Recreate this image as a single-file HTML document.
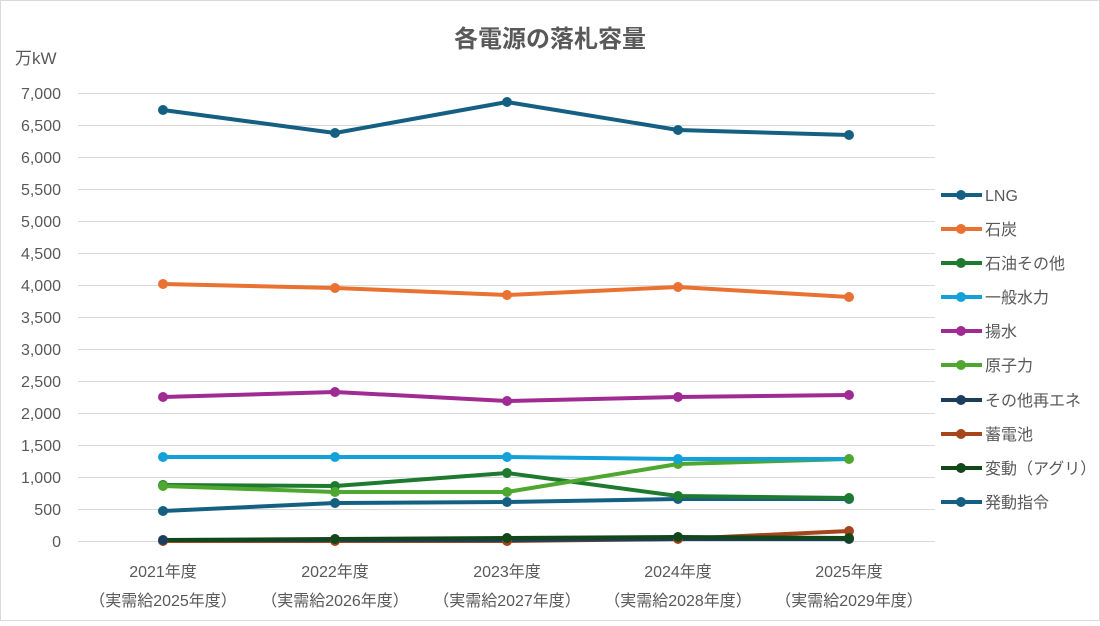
<!DOCTYPE html>
<html><head><meta charset="utf-8"><style>
html,body{margin:0;padding:0;background:#fff}
svg text{font-family:"Liberation Sans","Noto Sans CJK JP",sans-serif;fill:#595959}
</style></head><body>
<svg width="1100" height="621" viewBox="0 0 1100 621" xmlns="http://www.w3.org/2000/svg">
<rect x="0.5" y="0.5" width="1099" height="620" fill="#fff" stroke="#d9d9d9"/>
<text x="550" y="47" text-anchor="middle" font-size="24" font-weight="bold">各電源の落札容量</text>
<text x="15" y="64" font-size="17" fill="#404040">万kW</text>
<g stroke="#d9d9d9" stroke-width="1">
<line x1="78" x2="935" y1="93.5" y2="93.5"/><line x1="78" x2="935" y1="125.5" y2="125.5"/>
<line x1="78" x2="935" y1="157.5" y2="157.5"/><line x1="78" x2="935" y1="189.5" y2="189.5"/>
<line x1="78" x2="935" y1="221.5" y2="221.5"/><line x1="78" x2="935" y1="253.5" y2="253.5"/>
<line x1="78" x2="935" y1="285.5" y2="285.5"/><line x1="78" x2="935" y1="317.5" y2="317.5"/>
<line x1="78" x2="935" y1="349.5" y2="349.5"/><line x1="78" x2="935" y1="381.5" y2="381.5"/>
<line x1="78" x2="935" y1="413.5" y2="413.5"/><line x1="78" x2="935" y1="445.5" y2="445.5"/>
<line x1="78" x2="935" y1="477.5" y2="477.5"/><line x1="78" x2="935" y1="509.5" y2="509.5"/>
<line x1="78" x2="935" y1="541.5" y2="541.5"/>
</g>
<g font-size="16" text-anchor="end">
<text x="61" y="99">7,000</text><text x="61" y="131">6,500</text><text x="61" y="163">6,000</text>
<text x="61" y="195">5,500</text><text x="61" y="227">5,000</text><text x="61" y="259">4,500</text>
<text x="61" y="291">4,000</text><text x="61" y="323">3,500</text><text x="61" y="355">3,000</text>
<text x="61" y="387">2,500</text><text x="61" y="419">2,000</text><text x="61" y="451">1,500</text>
<text x="61" y="483">1,000</text><text x="61" y="515">500</text><text x="61" y="547">0</text>
</g>
<g font-size="16" text-anchor="middle">
<text x="163" y="577">2021年度</text><text x="163" y="606">（実需給2025年度）</text>
<text x="335" y="577">2022年度</text><text x="335" y="606">（実需給2026年度）</text>
<text x="507" y="577">2023年度</text><text x="507" y="606">（実需給2027年度）</text>
<text x="678" y="577">2024年度</text><text x="678" y="606">（実需給2028年度）</text>
<text x="849" y="577">2025年度</text><text x="849" y="606">（実需給2029年度）</text>
</g>
<g fill="none" stroke-width="4" stroke-linejoin="round">
<polyline stroke="#a5451b" points="163,541 335,541 507,541 678,539 849,531"/>
<polyline stroke="#1b3d5e" points="163,540 335,540 507,540 678,539 849,539"/>
<polyline stroke="#11471b" points="163,540 335,539 507,538 678,537 849,538"/>
<polyline stroke="#156082" points="163,511 335,503 507,502 678,499 849,499"/>
<polyline stroke="#1e7a2e" points="163,485 335,486 507,473 678,496 849,498"/>
<polyline stroke="#4ea72e" points="163,486 335,492 507,492 678,464 849,459"/>
<polyline stroke="#14a0d9" points="163,457 335,457 507,457 678,459 849,459"/>
<polyline stroke="#a02b93" points="163,397 335,392 507,401 678,397 849,395"/>
<polyline stroke="#e97132" points="163,284 335,288 507,295 678,287 849,297"/>
<polyline stroke="#156082" points="163,110 335,133 507,102 678,130 849,135"/>
</g>
<g>
<g fill="#a5451b"><circle cx="163" cy="541" r="5"/><circle cx="335" cy="541" r="5"/><circle cx="507" cy="541" r="5"/><circle cx="678" cy="539" r="5"/><circle cx="849" cy="531" r="5"/></g>
<g fill="#1b3d5e"><circle cx="163" cy="540" r="5"/><circle cx="849" cy="539" r="5"/></g>
<g fill="#11471b"><circle cx="335" cy="539" r="5"/><circle cx="507" cy="538" r="5"/><circle cx="678" cy="537" r="5"/><circle cx="849" cy="538" r="5"/></g>
<g fill="#156082"><circle cx="163" cy="511" r="5"/><circle cx="335" cy="503" r="5"/><circle cx="507" cy="502" r="5"/><circle cx="678" cy="499" r="5"/><circle cx="849" cy="499" r="5"/></g>
<g fill="#1e7a2e"><circle cx="163" cy="485" r="5"/><circle cx="335" cy="486" r="5"/><circle cx="507" cy="473" r="5"/><circle cx="678" cy="496" r="5"/><circle cx="849" cy="498" r="5"/></g>
<g fill="#4ea72e"><circle cx="163" cy="486" r="5"/><circle cx="335" cy="492" r="5"/><circle cx="507" cy="492" r="5"/><circle cx="678" cy="464" r="5"/><circle cx="849" cy="459" r="5"/></g>
<g fill="#14a0d9"><circle cx="163" cy="457" r="5"/><circle cx="335" cy="457" r="5"/><circle cx="507" cy="457" r="5"/><circle cx="678" cy="459" r="5"/></g>
<g fill="#a02b93"><circle cx="163" cy="397" r="5"/><circle cx="335" cy="392" r="5"/><circle cx="507" cy="401" r="5"/><circle cx="678" cy="397" r="5"/><circle cx="849" cy="395" r="5"/></g>
<g fill="#e97132"><circle cx="163" cy="284" r="5"/><circle cx="335" cy="288" r="5"/><circle cx="507" cy="295" r="5"/><circle cx="678" cy="287" r="5"/><circle cx="849" cy="297" r="5"/></g>
<g fill="#156082"><circle cx="163" cy="110" r="5"/><circle cx="335" cy="133" r="5"/><circle cx="507" cy="102" r="5"/><circle cx="678" cy="130" r="5"/><circle cx="849" cy="135" r="5"/></g>
</g>
<g font-size="16">
<g stroke-width="4">
<line x1="941" x2="982" y1="195" y2="195" stroke="#156082"/>
<line x1="941" x2="982" y1="229" y2="229" stroke="#e97132"/>
<line x1="941" x2="982" y1="263" y2="263" stroke="#1e7a2e"/>
<line x1="941" x2="982" y1="297" y2="297" stroke="#14a0d9"/>
<line x1="941" x2="982" y1="331" y2="331" stroke="#a02b93"/>
<line x1="941" x2="982" y1="365" y2="365" stroke="#4ea72e"/>
<line x1="941" x2="982" y1="400" y2="400" stroke="#1b3d5e"/>
<line x1="941" x2="982" y1="434" y2="434" stroke="#a5451b"/>
<line x1="941" x2="982" y1="468" y2="468" stroke="#11471b"/>
<line x1="941" x2="982" y1="502" y2="502" stroke="#156082"/>
</g>
<circle cx="961" cy="195" r="5" fill="#156082"/><circle cx="961" cy="229" r="5" fill="#e97132"/>
<circle cx="961" cy="263" r="5" fill="#1e7a2e"/><circle cx="961" cy="297" r="5" fill="#14a0d9"/>
<circle cx="961" cy="331" r="5" fill="#a02b93"/><circle cx="961" cy="365" r="5" fill="#4ea72e"/>
<circle cx="961" cy="400" r="5" fill="#1b3d5e"/><circle cx="961" cy="434" r="5" fill="#a5451b"/>
<circle cx="961" cy="468" r="5" fill="#11471b"/><circle cx="961" cy="502" r="5" fill="#156082"/>
<text x="985" y="201">LNG</text><text x="985" y="235">石炭</text><text x="985" y="269">石油その他</text>
<text x="985" y="303">一般水力</text><text x="985" y="337">揚水</text><text x="985" y="371">原子力</text>
<text x="985" y="406">その他再エネ</text><text x="985" y="440">蓄電池</text><text x="985" y="474">変動（アグリ）</text>
<text x="985" y="508">発動指令</text>
</g>
</svg>
</body></html>
